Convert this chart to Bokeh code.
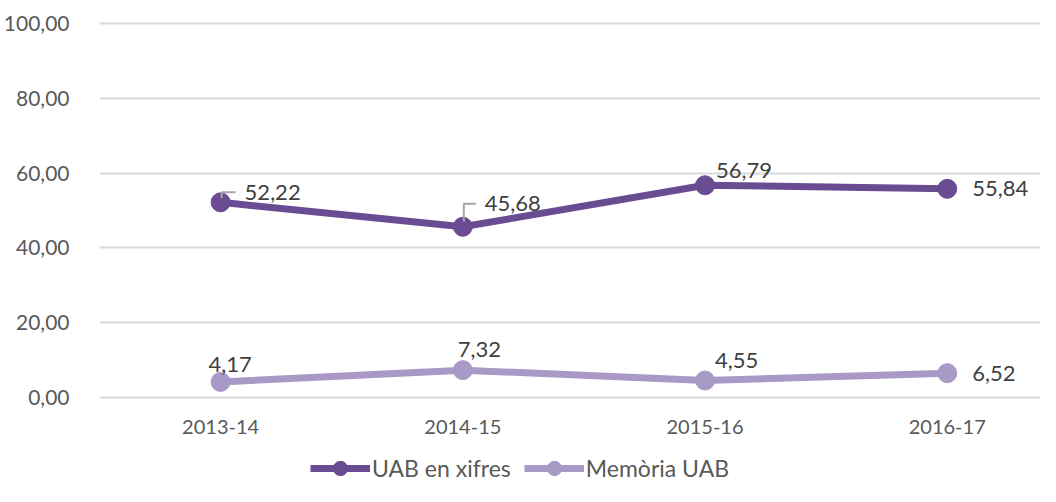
from bokeh.plotting import figure
from bokeh.layouts import column
from bokeh.models import Range1d, Legend, LegendItem, FixedTicker
from bokeh.core.properties import value
from bokeh.embed import file_html
from bokeh.resources import INLINE

categories = ["2013-14", "2014-15", "2015-16", "2016-17"]
uab_xifres = [52.22, 45.68, 56.79, 55.84]
memoria_uab = [4.17, 7.32, 4.55, 6.52]
y_ticks = [0, 20, 40, 60, 80, 100]
y_tick_labels = ["0,00", "20,00", "40,00", "60,00", "80,00", "100,00"]
series_names = ["UAB en xifres", "Memòria UAB"]

FONT = "Lato"
C1 = "#6A4C93"
C2 = "#A899C6"

def fmt(v):
    return f"{v:.2f}".replace(".", ",")

xs = list(range(len(categories)))

W = 1040
LEFT = 99
XR = (-0.5, 3.385)
YR = (0, 100.6)
MAIN_H = 450
p = figure(width=W, height=MAIN_H, output_backend="svg", toolbar_location=None,
           x_range=Range1d(*XR), y_range=Range1d(*YR),
           min_border_left=LEFT, min_border_top=21, min_border_right=0,
           min_border_bottom=MAIN_H - 397)
p.outline_line_color = None
p.background_fill_color = "white"
p.border_fill_color = "white"

p.xgrid.grid_line_color = None
p.ygrid.grid_line_color = "#D9D9D9"
p.ygrid.grid_line_width = 2

p.yaxis.ticker = FixedTicker(ticks=y_ticks)
p.yaxis.major_label_overrides = {t: l for t, l in zip(y_ticks, y_tick_labels)}
p.yaxis.axis_line_color = None
p.yaxis.major_tick_line_color = None
p.yaxis.minor_tick_line_color = None
p.yaxis.major_label_standoff = 24
p.yaxis.major_label_text_font = FONT
p.yaxis.major_label_text_font_size = "21px"
p.yaxis.major_label_text_color = "#595959"

p.xaxis.ticker = FixedTicker(ticks=xs)
p.xaxis.major_label_overrides = {i: c for i, c in zip(xs, categories)}
p.xaxis.axis_line_color = "#D9D9D9"
p.xaxis.axis_line_width = 2
p.xaxis.major_tick_line_color = None
p.xaxis.minor_tick_line_color = None
p.xaxis.major_label_standoff = 16
p.xaxis.major_label_text_font = FONT
p.xaxis.major_label_text_font_size = "20px"
p.xaxis.major_label_text_color = "#595959"

p.line(xs, uab_xifres, line_color=C1, line_width=7)
p.scatter(xs, uab_xifres, size=19, fill_color=C1, line_color=C1)
p.line(xs, memoria_uab, line_color=C2, line_width=7)
p.scatter(xs, memoria_uab, size=19, fill_color=C2, line_color=C2)

# leader lines (pixel offsets converted to data units)
px_x = (XR[1] - XR[0]) / (W - LEFT)
px_y = (YR[1] - YR[0]) / 376.0
leaders = [(0, 1, -4, -10, 15), (1, 1, -5, -23, 13)]
lead_xs, lead_ys = [], []
for i, dx0, dy0, dy1, dx1 in leaders:
    bx, by = xs[i], uab_xifres[i]
    lead_xs.append([bx + dx0 * px_x, bx + dx0 * px_x, bx + dx1 * px_x])
    lead_ys.append([by - dy0 * px_y, by - dy1 * px_y, by - dy1 * px_y])
p.multi_line(lead_xs, lead_ys, line_color="#A6A6A6", line_width=2)

# data labels (pixel offsets from each point)
top_offsets = [(24, -10), (22, -23), (11, -15), (25, 0)]
bot_offsets = [(-12, -17), (-5, -21), (10, -20), (25, 0)]
for vals, offs in [(uab_xifres, top_offsets), (memoria_uab, bot_offsets)]:
    for i, (v, (dx, dy)) in enumerate(zip(vals, offs)):
        p.text([xs[i]], [v], text=[fmt(v)], x_offset=dx, y_offset=dy,
               text_align="left", text_baseline="middle",
               text_font=value(FONT), text_font_size="22px", text_color="#404040")

# legend strip below the chart (its glyphs lie outside its visible range)
LEG_H = 486 - MAIN_H
lg = figure(width=W, height=LEG_H, output_backend="svg", toolbar_location=None,
            x_range=Range1d(*XR), y_range=Range1d(-200, -199),
            min_border=0, x_axis_type=None, y_axis_type=None)
lg.outline_line_color = None
lg.grid.grid_line_color = None
ll1 = lg.line(xs, uab_xifres, line_color=C1, line_width=7)
ls1 = lg.scatter(xs, uab_xifres, size=19, fill_color=C1, line_color=C1)
ll2 = lg.line(xs, memoria_uab, line_color=C2, line_width=7)
ls2 = lg.scatter(xs, memoria_uab, size=19, fill_color=C2, line_color=C2)

legend = Legend(items=[LegendItem(label=series_names[0], renderers=[ll1, ls1]),
                       LegendItem(label=series_names[1], renderers=[ll2, ls2])],
                orientation="horizontal", location=(310 - LEFT, 0),
                glyph_width=60, glyph_height=LEG_H, label_text_font=FONT,
                label_text_font_size="23px", label_text_color="#595959",
                spacing=13, padding=0, margin=0, label_standoff=2,
                background_fill_alpha=0, border_line_color=None)
lg.add_layout(legend, "center")

layout = column(p, lg, spacing=0)
open("out.html", "w").write(file_html(layout, INLINE))
